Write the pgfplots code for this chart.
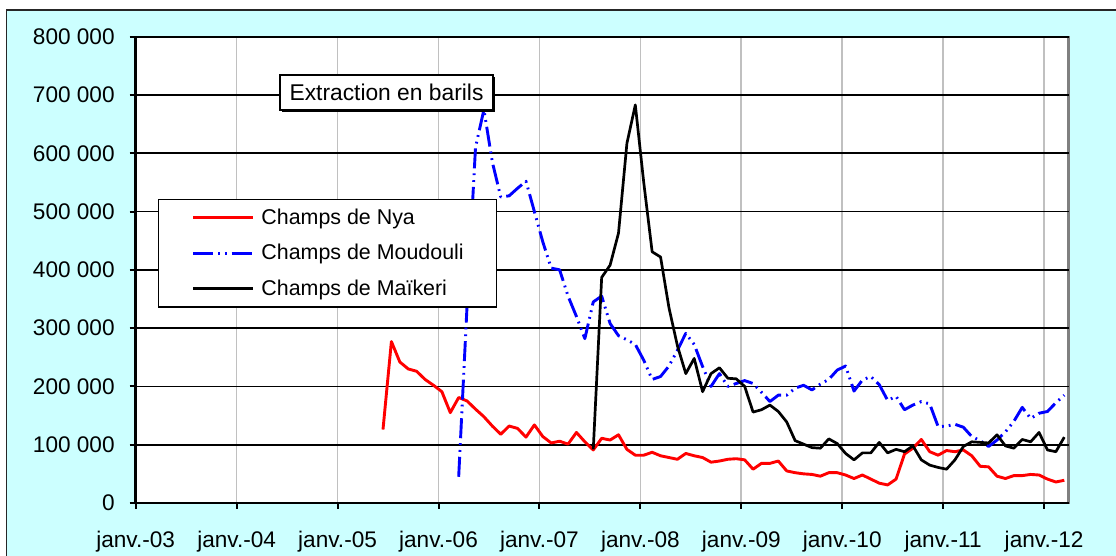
\documentclass[border=0pt]{standalone}
\usepackage{fontspec}
\setmainfont{Liberation Sans}
\usepackage{pgfplots}
\usepackage{pgfplotstable}
\pgfplotsset{compat=1.18}
\usetikzlibrary{shadows}
\definecolor{bgcyan}{RGB}{204,255,255}
\definecolor{gridgray}{RGB}{192,192,192}
\definecolor{framegray}{RGB}{128,128,128}

% monthly extraction (barrels); m = months since janv.-03
\pgfplotstableread{
m nya mou mai
29.4 126000 nan nan
30.4 277000 nan nan
31.4 242000 nan nan
32.4 230000 nan nan
33.4 226000 nan nan
34.4 212000 nan nan
35.4 202000 nan nan
36.4 191000 nan nan
37.4 155000 nan nan
38.4 181000 45000 nan
39.4 175000 340000 nan
40.4 161000 610000 nan
41.4 148000 675000 nan
42.4 132000 585000 nan
43.4 118000 525000 nan
44.4 132000 527000 nan
45.4 128000 540000 nan
46.4 113000 552000 nan
47.4 134000 500000 nan
48.4 114000 448000 nan
49.4 103000 403000 nan
50.4 106000 400000 nan
51.4 101000 355000 nan
52.4 121000 320000 nan
53.4 105000 282000 nan
54.4 91000 345000 92000
55.4 111000 355000 387000
56.4 108000 308000 408000
57.4 117000 287000 463000
58.4 92000 280000 617000
59.4 82000 272000 683000
60.4 82000 245000 550000
61.4 87000 212000 431000
62.4 81000 217000 422000
63.4 78000 235000 335000
64.4 75000 262000 270000
65.4 85000 291000 222000
66.4 81000 272000 248000
67.4 78000 234000 191000
68.4 70000 200000 222000
69.4 72000 222000 232000
70.4 75000 200000 214000
71.4 76000 205000 213000
72.4 74000 210000 200000
73.4 58000 205000 156000
74.4 68000 190000 160000
75.4 68000 174000 168000
76.4 72000 185000 157000
77.4 55000 185000 139000
78.4 52000 197000 107000
79.4 50000 202000 101000
80.4 49000 194000 95000
81.4 46000 204000 94000
82.4 52000 212000 110000
83.4 52000 228000 102000
84.4 48000 235000 85000
85.4 42000 192000 74000
86.4 48000 211000 86000
87.4 41000 217000 86000
88.4 34000 203000 104000
89.4 31000 176000 86000
90.4 41000 183000 92000
91.4 84000 160000 88000
92.4 94000 168000 98000
93.4 109000 174000 74000
94.4 88000 170000 65000
95.4 82000 131000 61000
96.4 90000 132000 58000
97.4 88000 135000 74000
98.4 91000 130000 97000
99.4 81000 114000 105000
100.4 63000 107000 104000
101.4 62000 97000 103000
102.4 46000 108000 117000
103.4 42000 122000 98000
104.4 47000 140000 94000
105.4 47000 164000 109000
106.4 49000 145000 105000
107.4 48000 154000 121000
108.4 41000 157000 91000
109.4 36000 172000 88000
110.4 39000 185000 113000
}\extraction

\begin{document}
\begin{tikzpicture}
\useasboundingbox (0,0) rectangle (558pt,278pt);
\fill[bgcyan] (3.2pt,0) rectangle (558pt,273pt);
\draw[black!85,line width=0.9pt] (3.2pt,0) -- (3.2pt,273pt) -- (558pt,273pt);
\begin{axis}[
  at={(67.85pt,26.5pt)}, anchor=south west,
  scale only axis, width=466.4pt, height=233.15pt,
  xmin=0, xmax=110.9, ymin=0, ymax=800000,
  scaled y ticks=false,
  axis lines=left, axis line style={-, line width=1.3pt, black},
  axis background/.style={fill=white, draw=framegray, line width=1.2pt},
  xtick={0,12,...,108},
  xticklabels={janv.-03,janv.-04,janv.-05,janv.-06,janv.-07,janv.-08,janv.-09,janv.-10,janv.-11,janv.-12},
  ytick={0,100000,...,800000},
  yticklabels={0,100 000,200 000,300 000,400 000,500 000,600 000,700 000,800 000},
  tick align=outside, major tick length=3pt,
  tick style={black, line width=1pt},
  xmajorgrids, ymajorgrids,
  major x grid style={gridgray, line width=0.85pt},
  major y grid style={black, line width=0.9pt},
  tick label style={font=\fontsize{11.3}{13}\selectfont},
  xticklabel style={yshift=-7.5pt},
  yticklabel style={xshift=-4pt},
  legend style={at={(0.0239,0.652)}, anchor=north west, draw=black, line width=0.6pt,
    fill=white, font=\fontsize{10.7}{12.5}\selectfont, inner xsep=16.5pt, inner ysep=4.5pt,
    row sep=8.5pt, column sep=3.5pt, nodes={inner sep=0pt}, cells={anchor=west}},
  legend image code/.code={\draw[#1] (0pt,0pt) -- (30pt,0pt);},
]
\addplot[red, line width=1.45pt, line join=round] table[x=m,y=nya]{\extraction};
\addplot[blue, line width=1.45pt, line join=round,
  dash pattern=on 10pt off 2.5pt on 0.9pt off 2.5pt on 0.9pt off 2.5pt] table[x=m,y=mou]{\extraction};
\addplot[black, line width=1.35pt, line join=round] table[x=m,y=mai]{\extraction};
\legend{Champs de Nya,Champs de Moudouli,Champs de Maïkeri}
\end{axis}
\node[draw=black, line width=1.2pt, fill=white,
  drop shadow={shadow xshift=1pt, shadow yshift=-1pt, opacity=1, fill=black},
  minimum width=106.5pt, minimum height=17.5pt, inner sep=0pt,
  font=\fontsize{11.4}{13}\selectfont] at (193.25pt,231.75pt) {Extraction en barils};
\end{tikzpicture}
\end{document}
